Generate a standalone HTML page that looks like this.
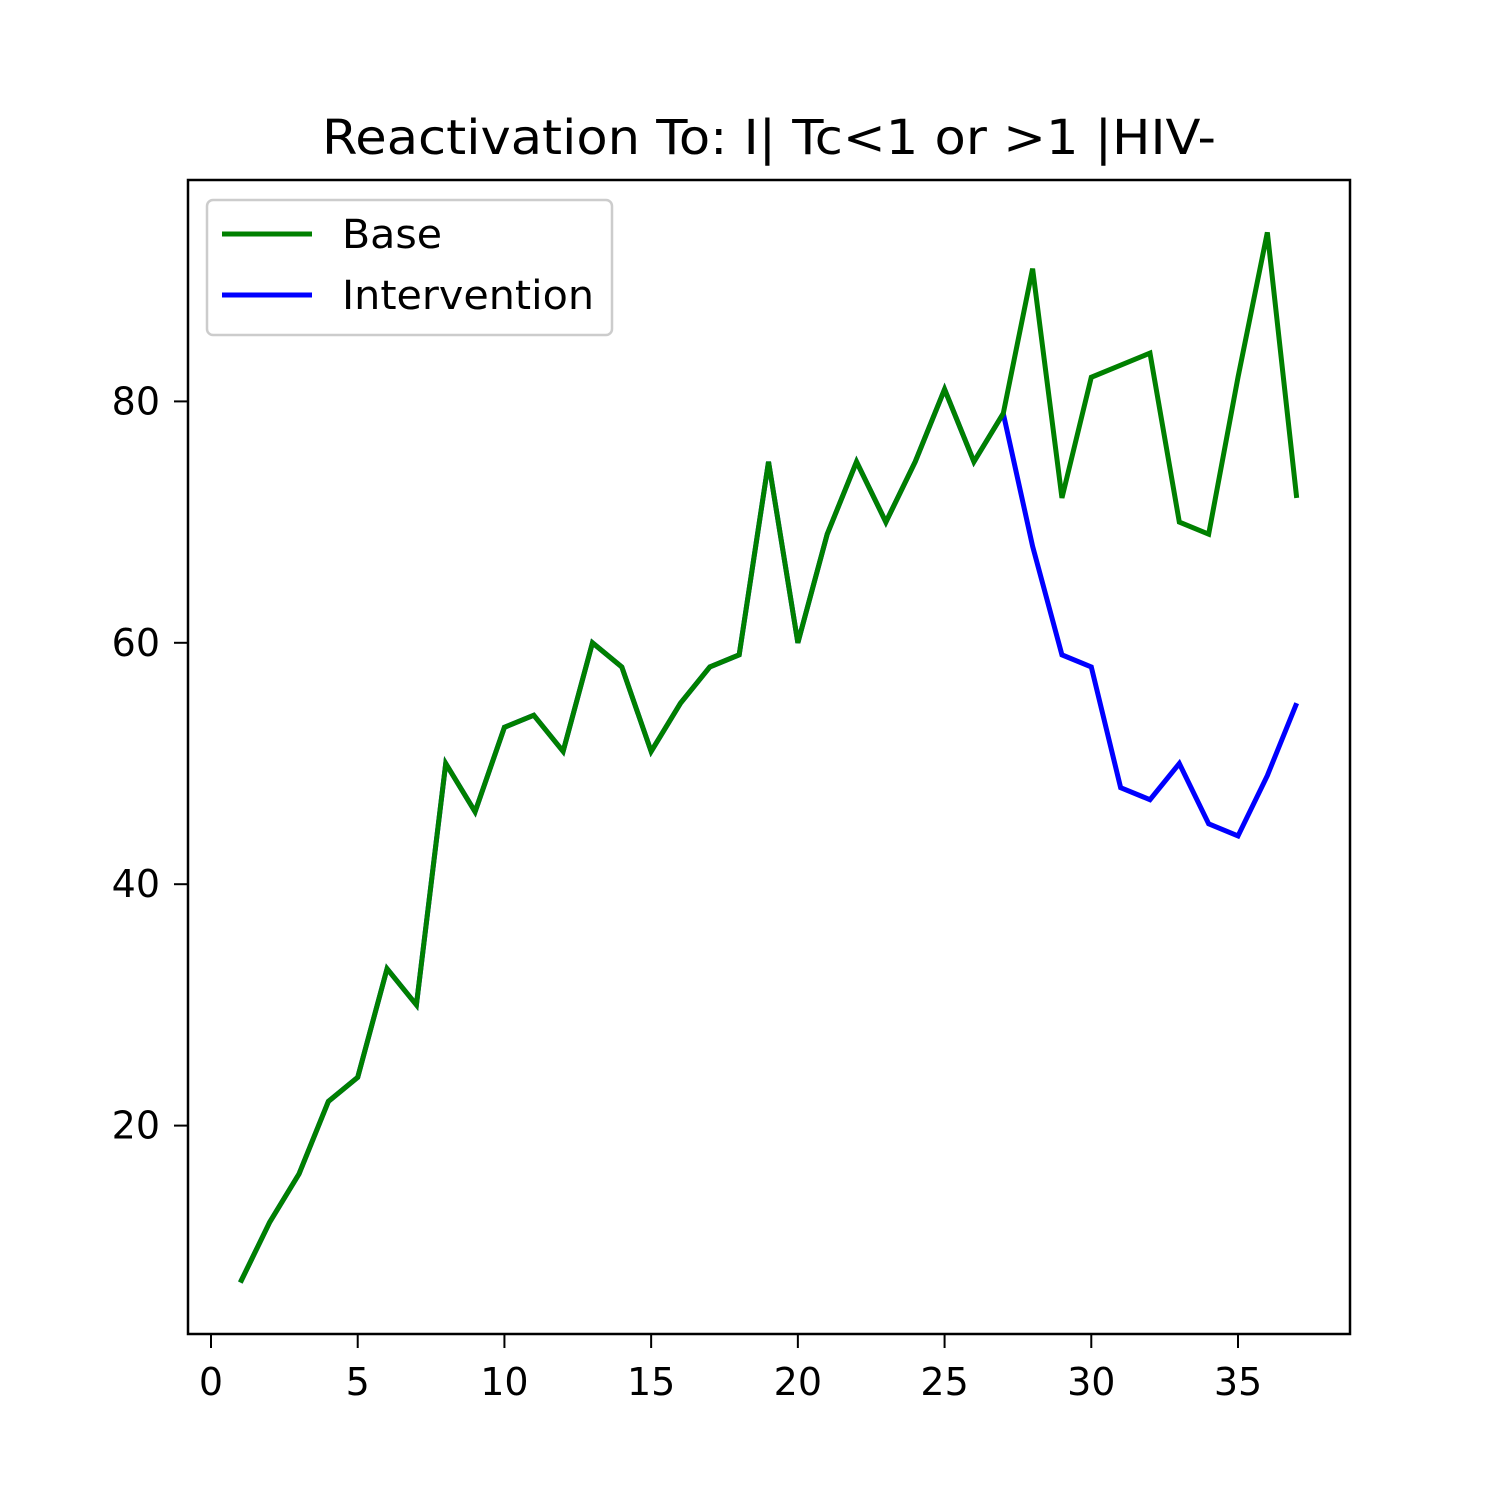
<!DOCTYPE html>
<html><head><meta charset="utf-8"><style>
html,body{margin:0;padding:0;background:#fff;}
svg text{font-family:"DejaVu Sans","Liberation Sans",sans-serif;}
</style></head><body>
<svg id="chart" width="1500" height="1500" viewBox="0 0 1500 1500">
<rect x="0" y="0" width="1500" height="1500" fill="#fff"/>
<text x="322" y="154" font-size="48" textLength="894" lengthAdjust="spacingAndGlyphs">Reactivation To: I| Tc&lt;1 or &gt;1 |HIV-</text>
<g id="xticks"></g>
<g id="yticks"></g>
<g id="series"></g>
<rect x="188" y="180" width="1162" height="1154" fill="none" stroke="#000" stroke-width="2.5"/>
<g>
<rect x="207" y="200" width="405" height="135" rx="6" fill="#fff" stroke="#ccc" stroke-width="2.5"/>
<line x1="222" y1="234" x2="312" y2="234" stroke="green" stroke-width="5"/>
<text x="342" y="248" font-size="40" textLength="100" lengthAdjust="spacingAndGlyphs">Base</text>
<line x1="222" y1="295" x2="312" y2="295" stroke="blue" stroke-width="5"/>
<text x="342" y="309" font-size="40" textLength="252" lengthAdjust="spacingAndGlyphs">Intervention</text>
</g>
</svg>
<script>
const baseValues=[7,12,16,22,24,33,30,50,46,53,54,51,60,58,51,55,58,59,75,60,69,75,70,75,81,75,79,91,72,82,83,84,70,69,82,94,72];
const interventionValues=[7,12,16,22,24,33,30,50,46,53,54,51,60,58,51,55,58,59,75,60,69,75,70,75,81,75,79,68,59,58,48,47,50,45,44,49,55];
const xTicks=[0,5,10,15,20,25,30,35];
const yTicks=[20,40,60,80];
const NS="http://www.w3.org/2000/svg";
function xs(v){return 211+v*29.343;}
function ys(v){return 1367-v*12.07;}
const xg=document.getElementById('xticks'),yg=document.getElementById('yticks'),sg=document.getElementById('series');
xTicks.forEach(t=>{
 const l=document.createElementNS(NS,'line');
 l.setAttribute('x1',xs(t));l.setAttribute('x2',xs(t));l.setAttribute('y1',1334);l.setAttribute('y2',1348);
 l.setAttribute('stroke','#000');l.setAttribute('stroke-width','2');
 
 
 xg.appendChild(l);
 const tx=document.createElementNS(NS,'text');
 tx.setAttribute('x',xs(t));tx.setAttribute('y',1395);tx.setAttribute('font-size','38');tx.setAttribute('text-anchor','middle');
 tx.textContent=t;
 
 
 xg.appendChild(tx);
});
yTicks.forEach(t=>{
 const l=document.createElementNS(NS,'line');
 l.setAttribute('x1',174);l.setAttribute('x2',188);l.setAttribute('y1',ys(t));l.setAttribute('y2',ys(t));
 l.setAttribute('stroke','#000');l.setAttribute('stroke-width','2');
 
 
 yg.appendChild(l);
 const tx=document.createElementNS(NS,'text');
 tx.setAttribute('x',160);tx.setAttribute('y',ys(t)+13);tx.setAttribute('font-size','38');tx.setAttribute('text-anchor','end');
 tx.textContent=t;
 
 
 yg.appendChild(tx);
});
function line(vals,color,name){
 const p=document.createElementNS(NS,'polyline');
 p.setAttribute('points',vals.map((v,i)=>xs(i+1)+','+ys(v)).join(' '));
 p.setAttribute('fill','none');p.setAttribute('stroke',color);p.setAttribute('stroke-width','5');
 
 
 sg.appendChild(p);
}
line(interventionValues,'blue','intervention-line');
line(baseValues,'green','base-line');
</script>
</body></html>
